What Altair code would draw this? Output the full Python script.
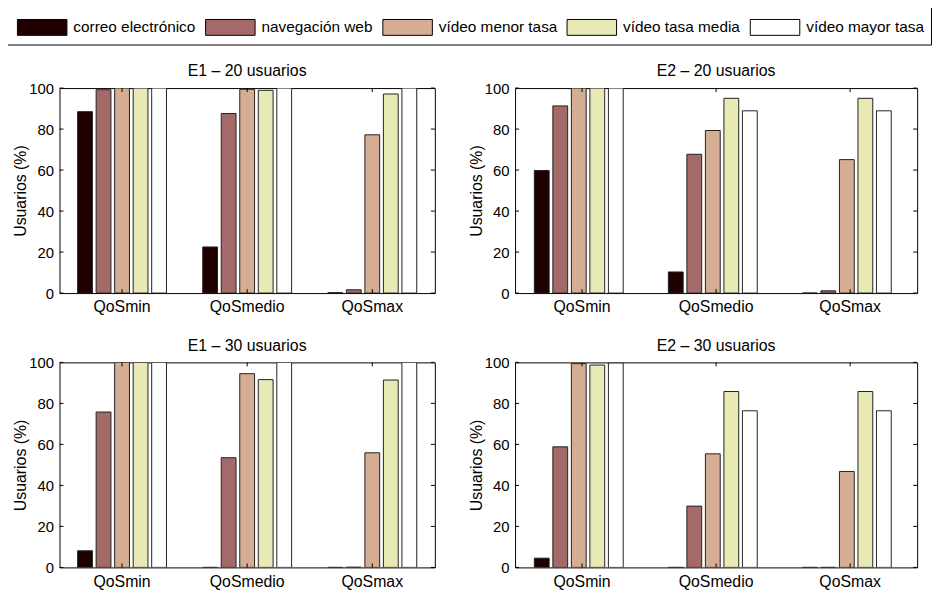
import altair as alt
import pandas as pd

groups = ["QoSmin", "QoSmedio", "QoSmax"]
series = ["correo electrónico", "navegación web", "vídeo menor tasa",
          "vídeo tasa media", "vídeo mayor tasa"]
colors = ["#1f0000", "#a36a69", "#d4ad92", "#e9e9b6", "#ffffff"]
y_ticks = [0, 20, 40, 60, 80, 100]

titles = ["E1 –  20 usuarios", "E2 –  20 usuarios",
          "E1 –  30 usuarios", "E2 –  30 usuarios"]

# values per series, one value per group (QoSmin, QoSmedio, QoSmax)
e1_20_correo = [88.5, 22.5, 0.2]
e1_20_nav = [99.2, 87.6, 1.6]
e1_20_menor = [100, 99.4, 77.2]
e1_20_media = [100, 98.9, 97.1]
e1_20_mayor = [100, 100, 100]

e2_20_correo = [59.8, 10.3, 0.0]
e2_20_nav = [91.3, 67.7, 1.1]
e2_20_menor = [100, 79.3, 65.1]
e2_20_media = [100, 95.0, 95.0]
e2_20_mayor = [100, 88.9, 88.9]

e1_30_correo = [8.1, 0.0, 0.0]
e1_30_nav = [75.8, 53.5, 0.1]
e1_30_menor = [100, 94.5, 55.9]
e1_30_media = [100, 91.6, 91.4]
e1_30_mayor = [100, 100, 100]

e2_30_correo = [4.5, 0.0, 0.0]
e2_30_nav = [58.8, 29.9, 0.0]
e2_30_menor = [99.4, 55.4, 46.8]
e2_30_media = [98.7, 85.8, 85.8]
e2_30_mayor = [99.7, 76.4, 76.4]

panels = [
    [e1_20_correo, e1_20_nav, e1_20_menor, e1_20_media, e1_20_mayor],
    [e2_20_correo, e2_20_nav, e2_20_menor, e2_20_media, e2_20_mayor],
    [e1_30_correo, e1_30_nav, e1_30_menor, e1_30_media, e1_30_mayor],
    [e2_30_correo, e2_30_nav, e2_30_menor, e2_30_media, e2_30_mayor],
]

FONT = "Liberation Sans"
H = 207


def make_df(vals):
    rows = []
    for s, v in zip(series, vals):
        for g, x in zip(groups, v):
            rows.append({"group": g, "series": s, "value": x})
    return pd.DataFrame(rows)


xscale = alt.Scale(domain=groups, paddingInner=0.26, paddingOuter=0.13)
yscale = alt.Scale(domain=[0, 100], nice=False, zero=True)
xaxis = alt.Axis(title=None, labelAngle=0, labelFontSize=16, labelPadding=6,
                 labelFont=FONT, labelColor="#000",
                 domain=False, ticks=False, grid=False)
yaxis = alt.Axis(title="Usuarios (%)", values=y_ticks, labelFontSize=15,
                 labelFont=FONT, labelColor="#000",
                 titleFont=FONT, titleFontSize=16, titleFontWeight="normal",
                 titleColor="#000",
                 labelPadding=6, titlePadding=0, domain=False, ticks=False,
                 grid=False)

legend = alt.Legend(title=None, orient="none", legendX=-53, legendY=-94,
                    direction="horizontal", columns=5,
                    symbolType="M-1,-0.32H1V0.32H-1Z", symbolSize=2500,
                    symbolStrokeColor="#000", symbolStrokeWidth=1,
                    symbolOpacity=1, symbolOffset=3,
                    labelFont=FONT, labelFontSize=15.5, labelColor="#000",
                    labelOffset=6, columnPadding=6, padding=7,
                    strokeColor="#000", fillColor="#fff")


def panel(vals, title, W):
    df = make_df(vals)
    bars = alt.Chart(df).mark_bar(stroke="#222", strokeWidth=1, clip=True,
                                  opacity=1).encode(
        x=alt.X("group:N", sort=groups, scale=xscale, axis=xaxis),
        xOffset=alt.XOffset("series:N", sort=series,
                            scale=alt.Scale(paddingInner=0.2, paddingOuter=0.1)),
        y=alt.Y("value:Q", scale=yscale, axis=yaxis),
        color=alt.Color("series:N", sort=series,
                        scale=alt.Scale(domain=series, range=colors),
                        legend=legend),
    )
    tdf = pd.DataFrame({"value": y_ticks})
    gdf = pd.DataFrame({"group": groups})
    yl = alt.Chart(tdf).mark_rule(color="#000", strokeWidth=1).encode(
        y=alt.Y("value:Q", scale=yscale, axis=yaxis),
        x=alt.value(0), x2=alt.value(4))
    yr = alt.Chart(tdf).mark_rule(color="#000", strokeWidth=1).encode(
        y=alt.Y("value:Q", scale=yscale, axis=yaxis),
        x=alt.value(W - 4), x2=alt.value(W))
    xb = alt.Chart(gdf).mark_rule(color="#000", strokeWidth=1).encode(
        x=alt.X("group:N", sort=groups, scale=xscale, axis=xaxis),
        y=alt.value(H), y2=alt.value(H - 4))
    xt = alt.Chart(gdf).mark_rule(color="#000", strokeWidth=1).encode(
        x=alt.X("group:N", sort=groups, scale=xscale, axis=xaxis),
        y=alt.value(0), y2=alt.value(4))
    return alt.layer(bars, yl, yr, xb, xt).properties(
        width=W, height=H,
        title=alt.TitleParams(title, fontSize=16, font=FONT,
                              fontWeight="normal", color="#000", offset=2))


top = alt.hconcat(panel(panels[0], titles[0], 379),
                  panel(panels[1], titles[1], 406), spacing=32)
bottom = alt.hconcat(panel(panels[2], titles[2], 379),
                     panel(panels[3], titles[3], 406), spacing=32)

chart = alt.vconcat(top, bottom, spacing=21).properties(
    padding={"left": -2, "top": -17, "right": 0, "bottom": 0},
    background="#ffffff"
).configure_view(
    stroke="#000", strokeWidth=1
).configure_axis(
    labelFont=FONT, titleFont=FONT, labelColor="#000", titleColor="#000",
    titleFontSize=16, titleFontWeight="normal"
)

chart.save("out.html", embed_options={"renderer": "svg", "actions": False})
